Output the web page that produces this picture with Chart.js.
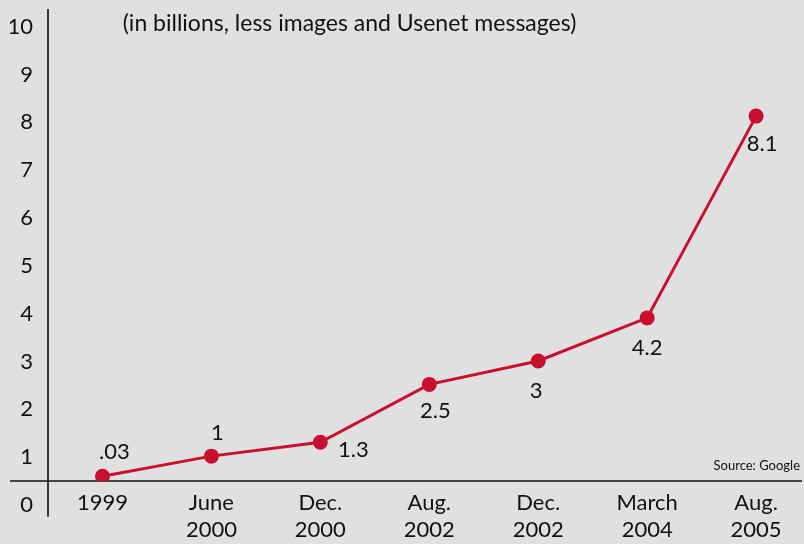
<!DOCTYPE html>
<html>
<head>
<meta charset="utf-8">
<script src="https://cdn.jsdelivr.net/npm/chart.js@4.4.1/dist/chart.umd.min.js"></script>
<style>
  html, body { margin: 0; padding: 0; background: #e0e0e0; }
  #wrap { width: 804px; height: 544px; }
</style>
</head>
<body>
<div id="wrap"><canvas id="grafico" width="804" height="544"></canvas></div>
<script>
// categorías del eje x (multilínea)
const periodos = [["1999"], ["June", "2000"], ["Dec.", "2000"], ["Aug.", "2002"], ["Dec.", "2002"], ["March", "2004"], ["Aug.", "2005"]];
// posición de cada punto tal como se ve en el gráfico
const paginas = [0.6, 1.02, 1.31, 2.52, 3.01, 3.91, 8.13];
// texto de cada etiqueta
const etiquetas = [".03", "1", "1.3", "2.5", "3", "4.2", "8.1"];
const ticksY = [0, 1, 2, 3, 4, 5, 6, 7, 8, 9, 10];

const titulo = "(in billions, less images and Usenet messages)";
const fuente = "Source: Google";

const ROJO = "#c8102e";
const FAM = "Lato, 'Open Sans', sans-serif";

// desplazamiento de cada etiqueta respecto a su punto
const offsets = [[12, -24], [6, -23], [33, 8], [6, 27], [-2, 30], [0, 30], [6, 28]];

const decoracion = {
  id: "decoracion",
  beforeDatasetsDraw(chart) {
    const { ctx, chartArea, scales: { x, y } } = chart;
    ctx.save();
    // eje vertical
    ctx.strokeStyle = "#3a3a3a";
    ctx.lineWidth = 2;
    const xl = x.getPixelForValue(-0.5);
    ctx.beginPath();
    ctx.moveTo(xl, chartArea.top);
    ctx.lineTo(xl, y.getPixelForValue(-0.25));
    ctx.stroke();
    // eje horizontal
    ctx.strokeStyle = "#111";
    ctx.lineWidth = 1.6;
    const yb = y.getPixelForValue(0.5);
    ctx.beginPath();
    ctx.moveTo(10, yb);
    ctx.lineTo(chart.width - 2, yb);
    ctx.stroke();
    ctx.restore();
  },
  afterDatasetsDraw(chart) {
    const { ctx } = chart;
    const meta = chart.getDatasetMeta(0);
    ctx.save();
    ctx.fillStyle = "#111";
    ctx.textAlign = "center";
    ctx.textBaseline = "middle";
    ctx.font = "22px " + FAM;
    meta.data.forEach((p, i) => {
      ctx.fillText(etiquetas[i], p.x + offsets[i][0], p.y + offsets[i][1]);
    });
    // título
    ctx.font = "23px " + FAM;
    ctx.fillText(titulo, (121 + 578) / 2, 24);
    // fuente
    ctx.font = "13px " + FAM;
    ctx.textAlign = "right";
    ctx.fillText(fuente, 800, 466);
    ctx.restore();
  }
};

new Chart(document.getElementById("grafico"), {
  type: "line",
  data: {
    datasets: [{
      data: paginas.map((v, i) => ({ x: i, y: v })),
      borderColor: ROJO,
      backgroundColor: ROJO,
      borderWidth: 3,
      pointRadius: 6,
      pointHoverRadius: 6,
      tension: 0
    }]
  },
  options: {
    responsive: false,
    animation: false,
    layout: { padding: { top: 6, right: 2, left: 10, bottom: 0 } },
    plugins: { legend: { display: false }, tooltip: { enabled: false } },
    scales: {
      x: {
        type: "linear",
        min: -0.5,
        max: 6.357,
        afterBuildTicks: s => { s.ticks = periodos.map((_, i) => ({ value: i })); },
        afterFit: s => { s.height = 63; s.paddingLeft = 0; s.paddingRight = 0; },
        grid: { display: false, drawTicks: false },
        border: { display: false },
        ticks: {
          callback: v => periodos[v],
          color: "#111",
          font: { family: FAM, size: 22, lineHeight: 1.2 },
          padding: 9,
          maxRotation: 0,
          autoSkip: false
        }
      },
      y: {
        min: 0.5,
        max: 10.37,
        afterBuildTicks: s => { s.ticks = ticksY.map(v => ({ value: v })); },
        afterFit: s => { s.width = 38; s.paddingTop = 0; s.paddingBottom = 0; },
        grid: { display: false, drawTicks: false },
        border: { display: false },
        ticks: {
          color: "#111",
          font: { family: FAM, size: 22 },
          padding: 15
        }
      }
    }
  },
  plugins: [decoracion]
});
</script>
</body>
</html>
